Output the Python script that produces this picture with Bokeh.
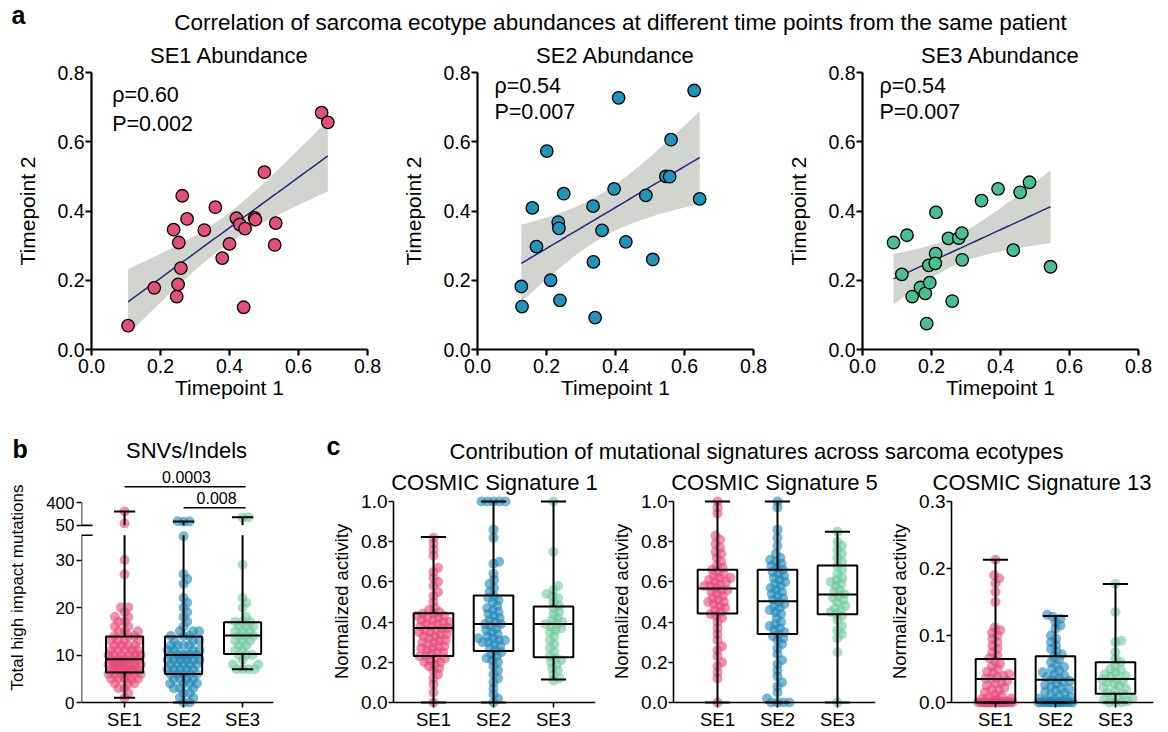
import numpy as np
from bokeh.plotting import figure
from bokeh.layouts import column, row
from bokeh.models import Range1d, FixedTicker, Band, ColumnDataSource, Span, Arrow
from bokeh.core.properties import value
from bokeh.embed import file_html
from bokeh.resources import INLINE

FONT = "Liberation Sans"
BASE_SHIFT = 0.3   # em correction so that the alphabetic baseline lands where intended

# ---------------- Panel a data ----------------
a_titles = ["SE1 Abundance", "SE2 Abundance", "SE3 Abundance"]
se1_t1 = [0.106, 0.182, 0.247, 0.251, 0.259, 0.253, 0.238, 0.263, 0.277, 0.327, 0.359, 0.379,
          0.400, 0.420, 0.430, 0.445, 0.441, 0.473, 0.475, 0.501, 0.534, 0.531, 0.667, 0.685]
se1_t2 = [0.069, 0.178, 0.153, 0.188, 0.235, 0.309, 0.346, 0.444, 0.377, 0.345, 0.411, 0.264,
          0.305, 0.379, 0.361, 0.349, 0.122, 0.380, 0.375, 0.512, 0.365, 0.302, 0.684, 0.656]
se2_t1 = [0.127, 0.129, 0.159, 0.171, 0.201, 0.212, 0.234, 0.236, 0.239, 0.250, 0.335, 0.336,
          0.341, 0.361, 0.396, 0.409, 0.430, 0.488, 0.508, 0.546, 0.557, 0.561, 0.628, 0.644]
se2_t2 = [0.182, 0.124, 0.409, 0.297, 0.573, 0.200, 0.368, 0.350, 0.142, 0.450, 0.414, 0.253,
          0.092, 0.344, 0.464, 0.727, 0.311, 0.445, 0.260, 0.500, 0.499, 0.606, 0.748, 0.435]
se3_t1 = [0.090, 0.114, 0.129, 0.144, 0.168, 0.182, 0.186, 0.192, 0.195, 0.212, 0.211, 0.213,
          0.260, 0.249, 0.279, 0.288, 0.289, 0.345, 0.393, 0.437, 0.457, 0.484, 0.545]
se3_t2 = [0.309, 0.217, 0.330, 0.153, 0.179, 0.162, 0.075, 0.243, 0.193, 0.277, 0.249, 0.396,
          0.140, 0.321, 0.322, 0.336, 0.259, 0.430, 0.464, 0.287, 0.454, 0.483, 0.239]
rho_labels = ["\u03c1=0.60", "\u03c1=0.54", "\u03c1=0.54"]
p_labels = ["P=0.002", "P=0.007", "P=0.007"]
T_CRIT = {21: 2.080, 22: 2.074}

# ---------------- Panel b data ----------------
b_groups = ["SE1", "SE2", "SE3"]
snv_se1 = [1, 2, 3, 3, 4, 4, 4, 5, 5, 5, 5, 5, 6, 6, 6, 6, 6, 6, 6, 7, 7, 7, 7, 7, 7, 7, 7,
           8, 8, 8, 8, 8, 8, 8, 8, 9, 9, 9, 9, 9, 9, 9, 10, 10, 10, 10, 10, 10, 11, 11, 11, 11,
           11, 12, 12, 12, 12, 13, 13, 13, 13, 14, 14, 14, 15, 15, 15, 16, 16, 17, 17, 18, 18,
           19, 20, 20, 27, 30, 80, 263]
snv_se2 = [0, 0, 1, 1, 2, 2, 3, 3, 3, 4, 4, 4, 4, 5, 5, 5, 5, 6, 6, 6, 6, 6, 7, 7, 7, 7, 7,
           8, 8, 8, 8, 8, 9, 9, 9, 9, 9, 9, 10, 10, 10, 10, 10, 10, 10, 11, 11, 11, 11, 12, 12,
           12, 12, 13, 13, 13, 14, 14, 14, 15, 15, 15, 16, 17, 18, 19, 20, 21, 22, 25, 26, 27,
           35, 104, 108, 112]
snv_se3 = [7, 7, 7, 7, 8, 8, 9, 10, 10, 10, 11, 11, 12, 12, 13, 13, 13, 14, 14, 14, 15, 15,
           15, 16, 16, 16, 17, 17, 17, 18, 20, 21, 22, 29, 168, 174]
# box stats: low whisker, q1, median, q3, high whisker
snv_box = {"lo": [1, 0, 7], "q1": [6.3, 6.0, 10.2], "med": [9.1, 10.0, 14.1],
           "q3": [13.9, 13.9, 16.9], "hi": [263, 108, 174]}
b_ticks = [0, 10, 20, 30, 50, 400]
# bracket label, left group, right end, line height (display units), label x, label baseline
b_brackets = [("0.0003", 1.0, 3.05, 45.4, 2.05, 46.4), ("0.008", 2.0, 3.05, 41.0, 2.56, 42.0)]

# ---------------- Panel c data ----------------
sig1_se1 = [0.0, 0.05, 0.09, 0.12, 0.14, 0.16, 0.17, 0.18, 0.19, 0.2, 0.2, 0.21, 0.22, 0.22,
            0.23, 0.23, 0.24, 0.25, 0.25, 0.26, 0.27, 0.27, 0.28, 0.28, 0.29, 0.3, 0.3, 0.31,
            0.31, 0.32, 0.33, 0.33, 0.34, 0.34, 0.35, 0.35, 0.36, 0.36, 0.37, 0.37, 0.38, 0.38,
            0.39, 0.39, 0.4, 0.4, 0.41, 0.41, 0.42, 0.42, 0.43, 0.43, 0.44, 0.44, 0.45, 0.46,
            0.47, 0.5, 0.53, 0.55, 0.58, 0.6, 0.62, 0.65, 0.67, 0.73, 0.76, 0.79, 0.82]
sig1_se2 = [0.0, 0.02, 0.04, 0.07, 0.1, 0.12, 0.14, 0.16, 0.18, 0.2, 0.21, 0.22, 0.23, 0.24,
            0.25, 0.26, 0.27, 0.28, 0.29, 0.3, 0.3, 0.31, 0.31, 0.32, 0.32, 0.33, 0.34, 0.35,
            0.36, 0.37, 0.38, 0.39, 0.39, 0.4, 0.41, 0.42, 0.43, 0.44, 0.45, 0.46, 0.47, 0.48,
            0.5, 0.51, 0.52, 0.53, 0.55, 0.57, 0.59, 0.61, 0.64, 0.69, 0.7, 0.82, 0.86, 1.0,
            1.0, 1.0, 1.0, 1.0]
sig1_se3 = [0.11, 0.12, 0.14, 0.16, 0.17, 0.19, 0.2, 0.21, 0.22, 0.23, 0.25, 0.27, 0.29, 0.31,
            0.33, 0.35, 0.36, 0.37, 0.38, 0.39, 0.39, 0.4, 0.41, 0.42, 0.44, 0.45, 0.47, 0.48,
            0.5, 0.52, 0.53, 0.54, 0.56, 0.58, 0.75, 1.0]
sig5_se1 = [0.0, 0.12, 0.15, 0.18, 0.2, 0.23, 0.26, 0.28, 0.31, 0.34, 0.37, 0.4, 0.42, 0.43,
            0.44, 0.45, 0.46, 0.47, 0.48, 0.49, 0.5, 0.5, 0.51, 0.52, 0.53, 0.54, 0.55, 0.56,
            0.56, 0.57, 0.58, 0.58, 0.59, 0.6, 0.6, 0.61, 0.62, 0.62, 0.63, 0.64, 0.65, 0.66,
            0.67, 0.68, 0.7, 0.72, 0.74, 0.75, 0.77, 0.79, 0.81, 0.83, 0.94, 0.97, 1.0]
sig5_se2 = [0.0, 0.0, 0.0, 0.0, 0.02, 0.05, 0.08, 0.1, 0.13, 0.16, 0.19, 0.21, 0.24, 0.27,
            0.29, 0.31, 0.32, 0.33, 0.34, 0.35, 0.36, 0.37, 0.38, 0.39, 0.4, 0.42, 0.44, 0.45,
            0.46, 0.47, 0.48, 0.49, 0.5, 0.51, 0.52, 0.53, 0.54, 0.55, 0.56, 0.57, 0.58, 0.59,
            0.6, 0.61, 0.62, 0.63, 0.64, 0.65, 0.66, 0.67, 0.68, 0.69, 0.7, 0.71, 0.72, 0.74,
            0.78, 0.82, 0.86, 0.97, 1.0]
sig5_se3 = [0.0, 0.25, 0.32, 0.34, 0.36, 0.38, 0.41, 0.43, 0.44, 0.45, 0.46, 0.47, 0.48, 0.5,
            0.51, 0.52, 0.53, 0.54, 0.55, 0.56, 0.58, 0.59, 0.6, 0.61, 0.62, 0.64, 0.66, 0.68,
            0.7, 0.72, 0.74, 0.76, 0.78, 0.8, 0.85]
sig13_se1 = [0.0, 0.0, 0.0, 0.0, 0.0, 0.0, 0.0, 0.0, 0.0, 0.0, 0.0, 0.0, 0.0, 0.0, 0.0, 0.0,
             0.0, 0.0, 0.002, 0.003, 0.004, 0.005, 0.006, 0.008, 0.01, 0.012, 0.015, 0.018,
             0.02, 0.022, 0.025, 0.028, 0.03, 0.032, 0.035, 0.036, 0.038, 0.04, 0.042, 0.044,
             0.046, 0.05, 0.054, 0.058, 0.062, 0.066, 0.07, 0.075, 0.08, 0.085, 0.09, 0.095,
             0.1, 0.104, 0.108, 0.112, 0.15, 0.165, 0.178, 0.185, 0.19, 0.213]
sig13_se2 = [0.0, 0.0, 0.0, 0.0, 0.0, 0.0, 0.0, 0.0, 0.0, 0.0, 0.0, 0.0, 0.0, 0.0, 0.0, 0.001,
             0.002, 0.003, 0.004, 0.005, 0.006, 0.008, 0.01, 0.012, 0.014, 0.016, 0.018, 0.02,
             0.022, 0.024, 0.026, 0.028, 0.03, 0.032, 0.034, 0.036, 0.038, 0.04, 0.042, 0.045,
             0.048, 0.05, 0.053, 0.056, 0.06, 0.064, 0.068, 0.072, 0.076, 0.08, 0.085, 0.09,
             0.095, 0.1, 0.11, 0.115, 0.12, 0.125, 0.128, 0.131]
sig13_se3 = [0.0, 0.0, 0.0, 0.002, 0.004, 0.006, 0.008, 0.01, 0.012, 0.015, 0.018, 0.02,
             0.022, 0.025, 0.028, 0.03, 0.032, 0.034, 0.036, 0.038, 0.04, 0.042, 0.045, 0.048,
             0.05, 0.055, 0.06, 0.065, 0.075, 0.09, 0.092, 0.135, 0.177]
c_titles = ["COSMIC Signature 1", "COSMIC Signature 5", "COSMIC Signature 13"]
c_boxes = [
    {"lo": [0, 0, 0.115], "q1": [0.231, 0.256, 0.225], "med": [0.371, 0.391, 0.391],
     "q3": [0.444, 0.532, 0.478], "hi": [0.824, 1.0, 1.0]},
    {"lo": [0, 0, 0], "q1": [0.443, 0.341, 0.439], "med": [0.567, 0.504, 0.537],
     "q3": [0.661, 0.661, 0.681], "hi": [1.0, 1.0, 0.849]},
    {"lo": [0, 0, 0], "q1": [0.0, 0.0, 0.013], "med": [0.035, 0.034, 0.035],
     "q3": [0.065, 0.069, 0.060], "hi": [0.213, 0.129, 0.177]},
]
c_ymax = [1.0, 1.0, 0.3]
c_ticks = [[0, 0.2, 0.4, 0.6, 0.8, 1.0], [0, 0.2, 0.4, 0.6, 0.8, 1.0], [0, 0.1, 0.2, 0.3]]

# ---------------- Styling ----------------
SCAT_COLORS = ["#E2507A", "#1F95BD", "#48BF93"]
DOT_COLORS = ["#E8487A", "#2088B8", "#6CC99D"]
DOT_ALPHA = 0.6


def style_axes(p, tick_font, label_font, lw, tick_out):
    for ax in p.axis:
        ax.major_label_text_font = FONT
        ax.major_label_text_font_size = tick_font
        ax.axis_label_text_font = FONT
        ax.axis_label_text_font_size = label_font
        ax.axis_label_text_font_style = "normal"
        ax.axis_line_width = lw
        ax.major_tick_line_width = lw
        ax.major_tick_out = tick_out
        ax.major_tick_in = 0
        ax.minor_tick_line_color = None
        ax.axis_line_color = "black"
        ax.major_label_text_color = "black"
        ax.axis_label_text_color = "black"
    p.grid.visible = False
    p.outline_line_color = None


def style_title(p, size, standoff, align="center", offset=0):
    p.title.text_font = FONT
    p.title.text_font_size = size
    p.title.text_font_style = "normal"
    p.title.text_color = "black"
    p.title.align = align
    p.title.offset = offset
    p.title.standoff = standoff


def swarm_offsets(vals_px, diam, max_half):
    vals_px = np.asarray(vals_px, dtype=float)
    n = len(vals_px)
    order = np.argsort(vals_px, kind="stable")
    xs = np.zeros(n)
    placed = []
    grid = np.linspace(-max_half, max_half, 61)
    for i in order:
        y = vals_px[i]
        near = [(xj, yj) for (xj, yj) in placed if abs(yj - y) < diam]
        cands = [0.0]
        for xj, yj in near:
            dx = np.sqrt(diam ** 2 - (y - yj) ** 2)
            cands += [xj + dx, xj - dx]
        cands = sorted(cands, key=abs)
        chosen = None
        for c in cands:
            if abs(c) > max_half:
                continue
            if all((c - xj) ** 2 + (y - yj) ** 2 >= diam ** 2 - 1e-6 for xj, yj in near):
                chosen = c
                break
        if chosen is None:
            d = np.min([(grid - xj) ** 2 + (y - yj) ** 2 for xj, yj in near], axis=0)
            chosen = grid[np.argmax(d - 1e-3 * np.abs(grid))]
        xs[i] = chosen
        placed.append((chosen, y))
    return xs


def text(p, x, y, s, size_px, ppu, align="left", bold=False):
    """Place text with its baseline at y (data units); ppu = pixels per data unit
    (negative for an inverted axis)."""
    y_adj = y + BASE_SHIFT * size_px / ppu
    p.text(x=[x], y=[y_adj], text=[s], text_font=value(FONT), text_font_size="%gpx" % size_px,
           text_align=align, text_baseline="alphabetic", text_color="black",
           text_font_style="bold" if bold else "normal")


def header(left, width, top, height):
    h = figure(width=width, height=height, x_range=Range1d(left, left + width),
               y_range=Range1d(top + height, top), x_axis_type=None, y_axis_type=None,
               toolbar_location=None, output_backend="svg", min_border=0)
    h.grid.visible = False
    h.outline_line_color = None
    return h


# ---------------- Header A ----------------
hA = header(0, 1168, 0, 35)
text(hA, 11, 22, "a", 25, -1, bold=True)
text(hA, 620, 29, "Correlation of sarcoma ecotype abundances at different time points from the same patient",
     22.5, -1, align="center")

# ---------------- Panel a ----------------
a_data = [(se1_t1, se1_t2), (se2_t1, se2_t2), (se3_t1, se3_t2)]
a_widths = [392, 384, 392]
a_borders = [(91, 25), (85, 23), (86, 30)]
a_text_x = [0.06, 0.049, 0.049]
a_text_y = [(0.715, 0.633), (0.743, 0.666), (0.743, 0.666)]
A_PPU = 346.0
a_figs = []
for k in range(3):
    xv = np.array(a_data[k][0])
    yv = np.array(a_data[k][1])
    p = figure(width=a_widths[k], height=384, x_range=Range1d(0, 0.8), y_range=Range1d(0, 0.8),
               toolbar_location=None, output_backend="svg",
               min_border_left=a_borders[k][0], min_border_right=a_borders[k][1],
               min_border_top=37, min_border_bottom=70, title=a_titles[k])
    style_title(p, "22px", 10)
    p.xaxis.axis_label = "Timepoint 1"
    p.yaxis.axis_label = "Timepoint 2"
    style_axes(p, "19.5px", "21px", 2.2, 6)
    p.xaxis.ticker = FixedTicker(ticks=[0, 0.2, 0.4, 0.6, 0.8])
    p.yaxis.ticker = FixedTicker(ticks=[0, 0.2, 0.4, 0.6, 0.8])
    p.xaxis.major_label_overrides = {0: "0.0", 0.2: "0.2", 0.4: "0.4", 0.6: "0.6", 0.8: "0.8"}
    p.yaxis.major_label_overrides = {0: "0.0", 0.2: "0.2", 0.4: "0.4", 0.6: "0.6", 0.8: "0.8"}
    p.xaxis.major_label_standoff = 3
    p.xaxis.axis_label_standoff = 0
    p.yaxis.major_label_standoff = 1
    p.yaxis.axis_label_standoff = 15

    # least-squares fit with 95% confidence band
    n = len(xv)
    b1, b0 = np.polyfit(xv, yv, 1)
    resid = yv - (b0 + b1 * xv)
    s = np.sqrt(np.sum(resid ** 2) / (n - 2))
    xm = xv.mean()
    sxx = np.sum((xv - xm) ** 2)
    xs = np.linspace(xv.min(), xv.max(), 60)
    yh = b0 + b1 * xs
    se = s * np.sqrt(1.0 / n + (xs - xm) ** 2 / sxx)
    tc = T_CRIT[n - 2]
    src = ColumnDataSource(dict(x=xs, y=yh, lo=yh - tc * se, hi=yh + tc * se))
    band = Band(base="x", lower="lo", upper="hi", source=src, fill_color="#D2D4D0",
                fill_alpha=1.0, line_color=None, level="underlay")
    p.add_layout(band)
    p.line("x", "y", source=src, line_color="#28287E", line_width=1.5)
    p.scatter(xv, yv, size=12.5, fill_color=SCAT_COLORS[k], line_color="black", line_width=1.3)
    text(p, a_text_x[k], a_text_y[k][0], rho_labels[k], 21.5, A_PPU)
    text(p, a_text_x[k], a_text_y[k][1], p_labels[k], 21.5, A_PPU)
    a_figs.append(p)

# ---------------- Header for panels b and c ----------------
hB = header(0, 1168, 419, 46)
text(hB, 12, 456, "b", 25, -1, bold=True)
text(hB, 186, 457, "SNVs/Indels", 22, -1, align="center")
text(hB, 326, 453, "c", 25, -1, bold=True)
text(hB, 756, 458, "Contribution of mutational signatures across sarcoma ecotypes", 22, -1,
     align="center")

# ---------------- Bottom row geometry ----------------
ROW_H = 267
ZERO_PX = 702          # page y of the zero line
PAD_BOTTOM = 5         # px of frame below the zero line
B_W = 323

# ---------------- Panel b (broken axis) ----------------
B_PX = 4.75            # pixels per count in the lower segment
LOW_TOP = 35.2         # top of lower axis segment (display units)
UP_LO_D, UP_HI_D = 37.3, 42.1   # display positions of 50 and 400
UP_LO, UP_HI = 50.0, 400.0
B_FRAME_TOP = 467


def disp(v):
    v = np.asarray(v, dtype=float)
    return np.where(v <= LOW_TOP, v, UP_LO_D + (v - UP_LO) * (UP_HI_D - UP_LO_D) / (UP_HI - UP_LO))


b_x0 = 0.27
pb = figure(width=B_W, height=ROW_H, x_range=Range1d(b_x0, b_x0 + 192 / 59.0),
            y_range=Range1d(-PAD_BOTTOM / B_PX, (ZERO_PX - B_FRAME_TOP) / B_PX),
            toolbar_location=None, output_backend="svg", min_border_left=81,
            min_border_right=50, min_border_top=2, min_border_bottom=25)
pb.yaxis.axis_label = "Total high impact mutations"
style_axes(pb, "17px", "17px", 1.6, 5)
pb.xaxis.major_label_text_font_size = "18.5px"
pb.yaxis.ticker = FixedTicker(ticks=[float(t) for t in disp(b_ticks)])
pb.yaxis.major_label_overrides = {float(d): str(t) for d, t in zip(disp(b_ticks), b_ticks)}
pb.yaxis.major_label_standoff = 2
pb.yaxis.axis_label_standoff = 16
pb.yaxis.axis_line_color = None
pb.xaxis.ticker = FixedTicker(ticks=[1, 2, 3])
pb.xaxis.major_label_overrides = {1: "SE1", 2: "SE2", 3: "SE3"}
pb.xaxis.axis_line_color = None
pb.xaxis.major_tick_in = PAD_BOTTOM
pb.xaxis.major_tick_out = 0
pb.xaxis.major_label_standoff = 1
pb.add_layout(Span(location=0, dimension="width", line_color="black", line_width=1.6))
for (y0, y1) in [(0, LOW_TOP), (UP_LO_D, UP_HI_D)]:
    pb.add_layout(Arrow(end=None, start=None, x_start=b_x0, x_end=b_x0, y_start=y0, y_end=y1,
                        line_color="black", line_width=1.6))
for (yb, dl, dr) in [(LOW_TOP, 3, 11), (UP_LO_D, 6, 11)]:
    pb.add_layout(Arrow(end=None, start=None, x_start=b_x0 - dl / 59.0, x_end=b_x0 + dr / 59.0,
                        y_start=yb, y_end=yb, line_color="black", line_width=1.6))

snv_all = [snv_se1, snv_se2, snv_se3]
for g in range(3):
    dv = disp(snv_all[g])
    off = swarm_offsets(dv * B_PX, 6.0, 16.0) / 59.0
    pb.scatter(g + 1 + off, dv, size=10, fill_color=DOT_COLORS[g], fill_alpha=DOT_ALPHA,
               line_color=None)

BW_B, CAP_B = 0.63, 0.36
bx = np.array([1, 2, 3], dtype=float)
q1d, medd, q3d = disp(snv_box["q1"]), disp(snv_box["med"]), disp(snv_box["q3"])
lod, hid = disp(snv_box["lo"]), disp(snv_box["hi"])
pb.quad(left=bx - BW_B / 2, right=bx + BW_B / 2, bottom=q1d, top=q3d, fill_color=None,
        line_color="black", line_width=2)
pb.segment(x0=bx - BW_B / 2, x1=bx + BW_B / 2, y0=medd, y1=medd, line_color="black", line_width=2)
pb.segment(x0=bx, x1=bx, y0=lod, y1=q1d, line_color="black", line_width=2)
pb.segment(x0=bx, x1=bx, y0=q3d, y1=np.minimum(hid, LOW_TOP), line_color="black", line_width=2)
up_mask = np.array(snv_box["hi"]) > UP_LO
pb.segment(x0=bx[up_mask], x1=bx[up_mask], y0=np.full(up_mask.sum(), UP_LO_D), y1=hid[up_mask],
           line_color="black", line_width=2)
pb.segment(x0=bx - CAP_B / 2, x1=bx + CAP_B / 2, y0=lod, y1=lod, line_color="black", line_width=2)
pb.segment(x0=bx - CAP_B / 2, x1=bx + CAP_B / 2, y0=hid, y1=hid, line_color="black", line_width=2)

for (lab, xa, xb, yl, xt, yt) in b_brackets:
    pb.segment(x0=[xa], x1=[xb], y0=[yl], y1=[yl], line_color="black", line_width=1.5)
    text(pb, xt, yt, lab, 16, B_PX, align="center")

# ---------------- Panel c ----------------
c_data = [[sig1_se1, sig1_se2, sig1_se3], [sig5_se1, sig5_se2, sig5_se3],
          [sig13_se1, sig13_se2, sig13_se3]]
c_widths = [280, 278, 287]
c_right = [8, 6, 15]
c_x0 = [0.333, 0.267, 0.267]
c_title_align = [("center", 0), ("center", 0), ("left", -19)]
c_figs = []
BW_C, CAP_C = 0.66, 0.42
for k in range(3):
    ppu = 201.0 / c_ymax[k]
    p = figure(width=c_widths[k], height=ROW_H,
               x_range=Range1d(c_x0[k], c_x0[k] + 202 / 60.0),
               y_range=Range1d(-PAD_BOTTOM / ppu, c_ymax[k] + 6 / ppu), toolbar_location=None,
               output_backend="svg", min_border_left=70, min_border_right=c_right[k],
               min_border_top=30, min_border_bottom=25, title=c_titles[k])
    style_title(p, "22px", 2, *c_title_align[k])
    p.yaxis.axis_label = "Normalized activity"
    style_axes(p, "19px", "18.5px", 1.6, 5)
    p.xaxis.major_label_text_font_size = "18.5px"
    p.yaxis.ticker = FixedTicker(ticks=c_ticks[k])
    p.yaxis.major_label_overrides = {t: "%.1f" % t for t in c_ticks[k]}
    p.yaxis.bounds = (0, c_ymax[k])
    p.yaxis.major_label_standoff = 1
    p.yaxis.axis_label_standoff = 6
    p.xaxis.ticker = FixedTicker(ticks=[1, 2, 3])
    p.xaxis.major_label_overrides = {1: "SE1", 2: "SE2", 3: "SE3"}
    p.xaxis.axis_line_color = None
    p.xaxis.major_tick_in = PAD_BOTTOM
    p.xaxis.major_tick_out = 0
    p.xaxis.major_label_standoff = 1
    p.add_layout(Span(location=0, dimension="width", line_color="black", line_width=1.6))
    for g in range(3):
        v = np.array(c_data[k][g], dtype=float)
        off = swarm_offsets(v * ppu, 6.0, 17.0) / 60.0
        p.scatter(g + 1 + off, v, size=10, fill_color=DOT_COLORS[g], fill_alpha=DOT_ALPHA,
                  line_color=None)
    bs = c_boxes[k]
    bxc = np.array([1, 2, 3], dtype=float)
    p.quad(left=bxc - BW_C / 2, right=bxc + BW_C / 2, bottom=bs["q1"], top=bs["q3"],
           fill_color=None, line_color="black", line_width=2)
    p.segment(x0=bxc - BW_C / 2, x1=bxc + BW_C / 2, y0=bs["med"], y1=bs["med"],
              line_color="black", line_width=2)
    p.segment(x0=bxc, x1=bxc, y0=bs["lo"], y1=bs["q1"], line_color="black", line_width=2)
    p.segment(x0=bxc, x1=bxc, y0=bs["q3"], y1=bs["hi"], line_color="black", line_width=2)
    p.segment(x0=bxc - CAP_C / 2, x1=bxc + CAP_C / 2, y0=bs["lo"], y1=bs["lo"],
              line_color="black", line_width=2)
    p.segment(x0=bxc - CAP_C / 2, x1=bxc + CAP_C / 2, y0=bs["hi"], y1=bs["hi"],
              line_color="black", line_width=2)
    c_figs.append(p)

bottom = row(column(pb), column(row(*c_figs)))
layout = column(hA, row(*a_figs), hB, bottom)
open("out.html", "w").write(file_html(layout, INLINE))
